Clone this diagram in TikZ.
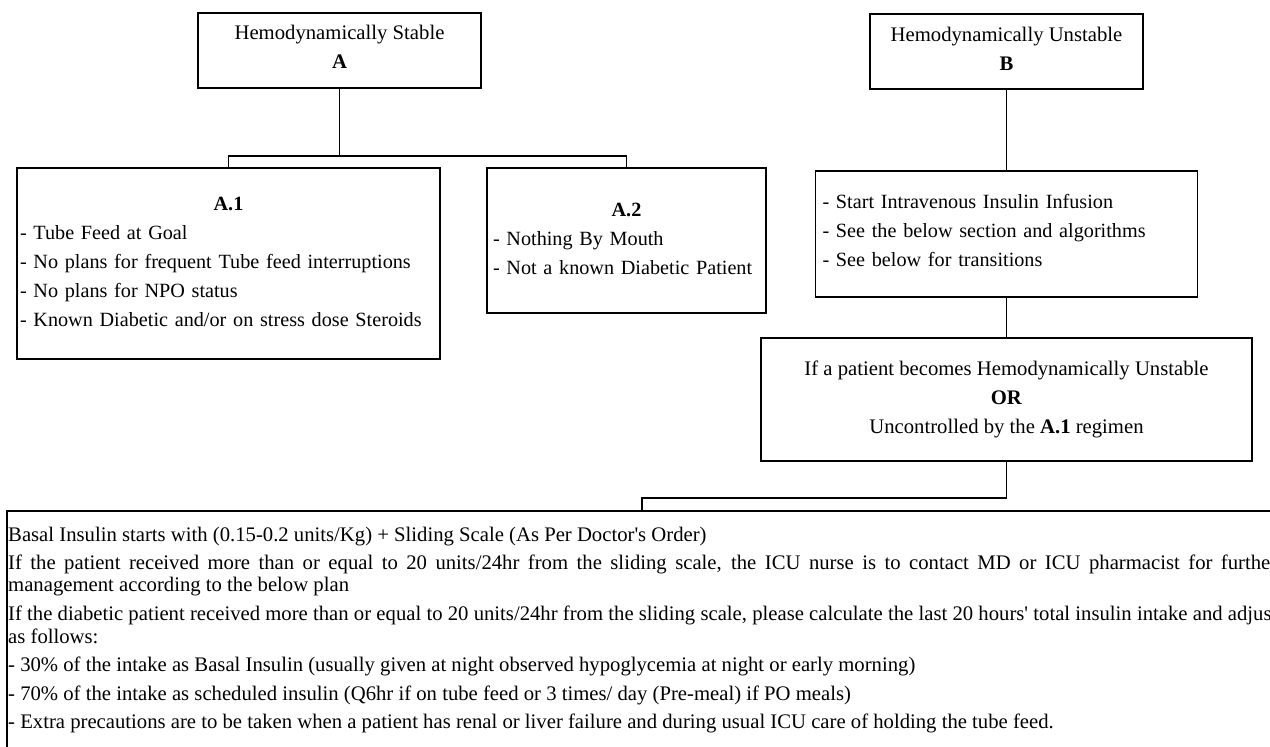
\documentclass[tikz,border=0pt]{standalone}
\usepackage{fontspec}
\setmainfont{Liberation Serif}
\newcommand\fsz{\fontsize{20.7pt}{29pt}\selectfont}
\newcommand\fszs{\fontsize{20.2pt}{29pt}\selectfont}
\newcommand\ctr[1]{\makebox[\hsize]{#1}}
\begin{document}
\begin{tikzpicture}[x=1pt,y=-1pt,
  box/.style={draw, line width=1.8pt, rectangle, inner sep=0pt, font=\fsz},
  listbox/.style={box, font=\fszs, align=left},
  conn/.style={draw, line width=1.8pt},
  txtline/.style={inner sep=0pt, font=\fsz, anchor=base west}]
\useasboundingbox (0,0) rectangle (1270,747);
\clip (0,0) rectangle (1270,747);
\fill[white] (0,0) rectangle (1270,747);

% top boxes
\node[box, minimum width=283pt, minimum height=75pt, align=center, text depth=8pt] (A) at (339.5,50.5)
  {Hemodynamically Stable\\\textbf{A}};
\node[box, minimum width=273pt, minimum height=75pt, align=center, text depth=5pt] (B) at (1006.5,51.5)
  {Hemodynamically Unstable\\\textbf{B}};

% second row
\node[listbox, minimum width=423pt, minimum height=191pt, text width=417pt, text depth=120pt] (a1) at (228.5,263.5)
  {\ctr{\textbf{A.1}}\\- Tube Feed at Goal\\- No plans for frequent Tube feed interruptions\\- No plans for NPO status\\- Known Diabetic and/or on stress dose Steroids};
\node[listbox, minimum width=279pt, minimum height=145pt, text width=267pt, text depth=62pt] (a2) at (626.5,240.5)
  {\ctr{\textbf{A.2}}\\- Nothing By Mouth\\- Not a known Diabetic Patient};
\node[listbox, minimum width=382pt, minimum height=126pt, text width=368pt, text depth=65pt] (Bp) at (1006.5,234)
  {- Start Intravenous Insulin Infusion\\- See the below section and algorithms\\- See below for transitions};

% transition box
\node[box, minimum width=491pt, minimum height=123pt, align=center, text depth=4pt] (C) at (1006.5,399.5)
  {If a patient becomes Hemodynamically Unstable\\\textbf{OR}\\Uncontrolled by the \textbf{A.1} regimen};

% bottom box
\node[box, minimum width=1400pt, minimum height=300pt, anchor=north west] (bot) at (6,510) {};
\node[txtline] (l1) at (8,541) {Basal Insulin starts with (0.15-0.2 units/Kg) + Sliding Scale (As Per Doctor\textquotesingle s Order)};
\node[txtline] (l2) at (8,569) {\makebox[1269pt][s]{If the patient received more than or equal to 20 units/24hr from the sliding scale, the ICU nurse is to contact MD or ICU pharmacist for further}};
\node[txtline] (l3) at (8,591) {management according to the below plan};
\node[txtline] (l4) at (8,620) {\makebox[1269pt][s]{If the diabetic patient received more than or equal to 20 units/24hr from the sliding scale, please calculate the last 20 hours\textquotesingle\ total insulin intake and adjust}};
\node[txtline] (l5) at (8,643) {as follows:};
\node[txtline] (l6) at (8,671) {- 30\% of the intake as Basal Insulin (usually given at night observed hypoglycemia at night or early morning)};
\node[txtline] (l7) at (8,700) {- 70\% of the intake as scheduled insulin (Q6hr if on tube feed or 3 times/ day (Pre-meal) if PO meals)};
\node[txtline] (l8) at (8,728) {- Extra precautions are to be taken when a patient has renal or liver failure and during usual ICU care of holding the tube feed.};

% connectors
\coordinate (ja) at (339.5,156);
\draw[conn] (A.south) -- (ja);
\draw[conn] (a1.north) |- (ja) -| (a2.north);
\draw[conn] (B.south) -- (Bp.north);
\draw[conn] (Bp.south) -- (C.north);
\coordinate (jb) at (642,498);
\draw[conn] (C.south) |- (jb) -- (jb |- bot.north);
\end{tikzpicture}
\end{document}
